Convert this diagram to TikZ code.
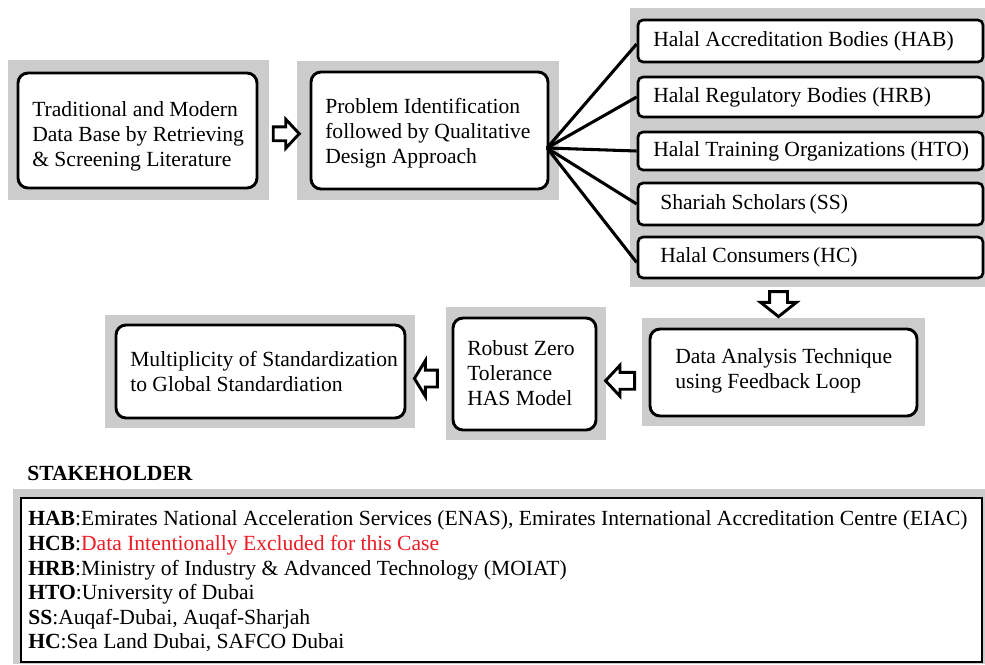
\documentclass[tikz,border=0pt]{standalone}
\usepackage{fontspec}
\setmainfont{Liberation Serif}
\usetikzlibrary{fit,shapes.arrows,calc}
\newlength\pxu \setlength\pxu{0.75pt}
\definecolor{gbg}{RGB}{204,204,204}
\definecolor{redtxt}{RGB}{237,28,36}
\begin{document}
\begin{tikzpicture}[x=0.75pt,y=-0.75pt,
  bg/.style={fill=gbg,draw=none,inner sep=0pt},
  wbox/.style={draw=black,fill=white,line width=2.2pt,rounded corners=10\pxu,inner sep=0pt},
  sbox/.style={draw=black,fill=white,line width=2pt,rounded corners=5\pxu,inner sep=0pt},
  txt/.style={font=\fontsize{16.2}{18.75}\selectfont,align=left,inner sep=0pt,anchor=west},
  fanline/.style={line width=2.3pt},
  blk/.style={single arrow,draw=black,fill=white,line width=2.2pt,minimum width=0pt,single arrow head indent=0pt}]
\fill[white] (0,0) rectangle (985,664);
\useasboundingbox (0,0) rectangle (985,664);
% box 1
\node[bg,fit={(8,60) (269,200)}] (g1) {};
\node[wbox,fit={(18,73) (257,188)}] (b1) {};
\node[txt] (t1) at (32,136) {Traditional and Modern\\Data Base by Retrieving\\\& Screening Literature};
% box 2
\node[bg,fit={(297,61) (559,200)}] (g2) {};
\node[wbox,fit={(311,72) (548,189)}] (b2) {};
\node[txt] (t2) at (325,133) {Problem Identification\\followed by Qualitative\\Design Approach};
% stakeholder panel
\node[bg,fit={(630,8) (985,287)}] (g3) {};
\node[sbox,fit={(638,20) (983,62)}] (s1) {};
\node[txt] (st1) at (653,41) {Halal Accreditation Bodies (HAB)};
\node[sbox,fit={(638,77) (983,117)}] (s2) {};
\node[txt] (st2) at (653,97) {Halal Regulatory Bodies (HRB)};
\node[sbox,fit={(638,132) (983,170)}] (s3) {};
\node[txt] (st3) at (653,151) {Halal Training Organizations (HTO)};
\node[sbox,fit={(638,183) (983,225)}] (s4) {};
\node[txt] (st4) at (660,204) {Shariah Scholars\,(SS)};
\node[sbox,fit={(638,237) (983,278)}] (s5) {};
\node[txt] (st5) at (660,257) {Halal Consumers\,(HC)};
% fan
\coordinate (fan) at (547,148);
\draw[fanline] (fan) -- ($(s1.west)+(0,3)$);
\draw[fanline] (fan) -- (s2.west);
\draw[fanline] (fan) -- (s3.west);
\draw[fanline] (fan) -- (s4.west);
\draw[fanline] (fan) -- ($(s5.west)+(0,5)$);
% data analysis
\node[bg,fit={(642,318) (925,426)}] (g4) {};
\node[wbox,fit={(650,329) (917,416)}] (b3) {};
\node[txt] (t3) at (675,371) {Data Analysis Technique\\using Feedback Loop};
% robust
\node[bg,fit={(446,307) (606,440)}] (g5) {};
\node[wbox,fit={(453,318) (596,430)}] (b4) {};
\node[txt] (t4) at (467,373.5) {Robust Zero\\Tolerance\\HAS Model};
% multiplicity
\node[bg,fit={(105,315) (415,428)}] (g6) {};
\node[wbox,fit={(116,325) (405,418)}] (b5) {};
\node[txt] (t5) at (130,371.5) {Multiplicity of Standardization\\to Global Standardiation};
% block arrows
\node[blk,minimum height=26\pxu,inner sep=5.5\pxu,single arrow head extend=7.5\pxu,single arrow tip angle=94] (a1) at ($(g1.east)!0.5!(g2.west)+(0,3.5)$) {};
\node[blk,shape border rotate=270,minimum height=25\pxu,inner sep=7.5\pxu,single arrow head extend=9\pxu,single arrow tip angle=103] (a2) at ($(g3.south)!0.5!(g4.north)+(-17,-2)$) {};
\node[blk,shape border rotate=180,minimum height=29\pxu,inner sep=7\pxu,single arrow head extend=7\pxu,single arrow tip angle=94] (a3) at ($(g5.east)!0.5!(g4.west)+(0,8)$) {};
\node[blk,shape border rotate=180,minimum height=23\pxu,inner sep=7\pxu,single arrow head extend=9.5\pxu,single arrow tip angle=117] (a4) at ($(g6.east)!0.5!(g5.west)+(-2,6)$) {};
% legend
\node[txt,font=\fontsize{16.2}{18.75}\selectfont\bfseries] (sh) at (27,473) {STAKEHOLDER};
\node[bg,fit={(13,489) (985,664)}] (g7) {};
\node[draw=black,line width=2pt,fill=white,inner sep=0pt,fit={(21,498) (982,662)}] (lg) {};
\node[txt,font=\fontsize{16.2}{18.45}\selectfont] (lt) at (28,581.5) {\textbf{HAB}:Emirates National Acceleration Services (ENAS), Emirates International Accreditation Centre (EIAC)\\
\textbf{HCB}:\textcolor{redtxt}{Data Intentionally Excluded for this Case}\\
\textbf{HRB}:Ministry of Industry \& Advanced Technology (MOIAT)\\
\textbf{HTO}:University of Dubai\\
\textbf{SS}:Auqaf-Dubai, Auqaf-Sharjah\\
\textbf{HC}:Sea Land Dubai, SAFCO Dubai};
\end{tikzpicture}
\end{document}
